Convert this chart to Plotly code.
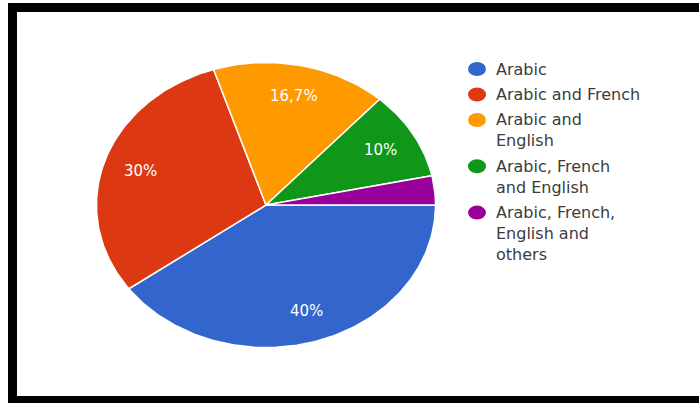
import numpy as np
import plotly.graph_objects as go

# Survey answers: languages used
categories = [
    "Arabic",
    "Arabic and French",
    "Arabic and<br>English",
    "Arabic, French<br>and English",
    "Arabic, French,<br>English and<br>others",
]
shares = [40, 30, 16.7, 10, 3.3]
colors = ["#3366cc", "#dc3912", "#ff9900", "#109618", "#990099"]

W, H = 699, 403
# pie geometry (pixel-like axis units, y pointing down)
CX, CY = 266, 205
RX, RY = 169.5, 142.5
LABEL_R = 0.78
FONT = "DejaVu Sans, Roboto, Arial, sans-serif"

fig = go.Figure()

total = sum(shares)
start = 0.0
for name, v, c in zip(categories, shares, colors):
    frac = v / total
    a0, a1 = start * 2 * np.pi, (start + frac) * 2 * np.pi
    n = max(4, int(360 * frac))
    t = np.linspace(a0, a1, n)
    xs = np.concatenate([[CX], CX + RX * np.cos(t), [CX]])
    ys = np.concatenate([[CY], CY + RY * np.sin(t), [CY]])
    fig.add_trace(go.Scatter(
        x=xs, y=ys, mode="lines", fill="toself", fillcolor=c,
        line=dict(color="white", width=1.5), name=name.replace("<br>", " "),
        hoverinfo="name", showlegend=False,
    ))
    if frac >= 0.05:
        am = (a0 + a1) / 2
        fig.add_annotation(
            x=CX + LABEL_R * RX * np.cos(am), y=CY + LABEL_R * RY * np.sin(am),
            text=f"{v:g}%".replace(".", ","), showarrow=False,
            font=dict(family=FONT, size=15, color="white"),
        )
    start += frac

# legend: coloured dots with wrapped labels
LEG_X, LEG_Y = 477, 69
LINE_H, ENTRY_GAP = 20.8, 25.5
y = LEG_Y
shapes = [
    dict(type="rect", x0=8, x1=W + 20, y0=3, y1=H + 20, fillcolor="black",
         line=dict(width=0), layer="below"),
    dict(type="rect", x0=17, x1=W + 20, y0=12, y1=396, fillcolor="white",
         line=dict(width=0), layer="below"),
]
for name, c in zip(categories, colors):
    lines = name.count("<br>") + 1
    shapes.append(dict(type="circle", x0=LEG_X - 9, x1=LEG_X + 9, y0=y - 7, y1=y + 7,
                       fillcolor=c, line=dict(width=0)))
    fig.add_annotation(
        x=LEG_X + 17, y=y + (lines - 1) * LINE_H / 2, text=name, showarrow=False,
        xanchor="left", yanchor="middle", align="left",
        font=dict(family=FONT, size=16, color="#3c3c3c"),
    )
    y += ENTRY_GAP + (lines - 1) * LINE_H

fig.update_layout(
    width=W, height=H, margin=dict(l=0, r=0, t=0, b=0),
    paper_bgcolor="white", plot_bgcolor="white",
    xaxis=dict(range=[0, W], visible=False, fixedrange=True),
    yaxis=dict(range=[H, 0], visible=False, fixedrange=True),
    shapes=shapes, showlegend=False,
)

fig.write_html("out.html")
